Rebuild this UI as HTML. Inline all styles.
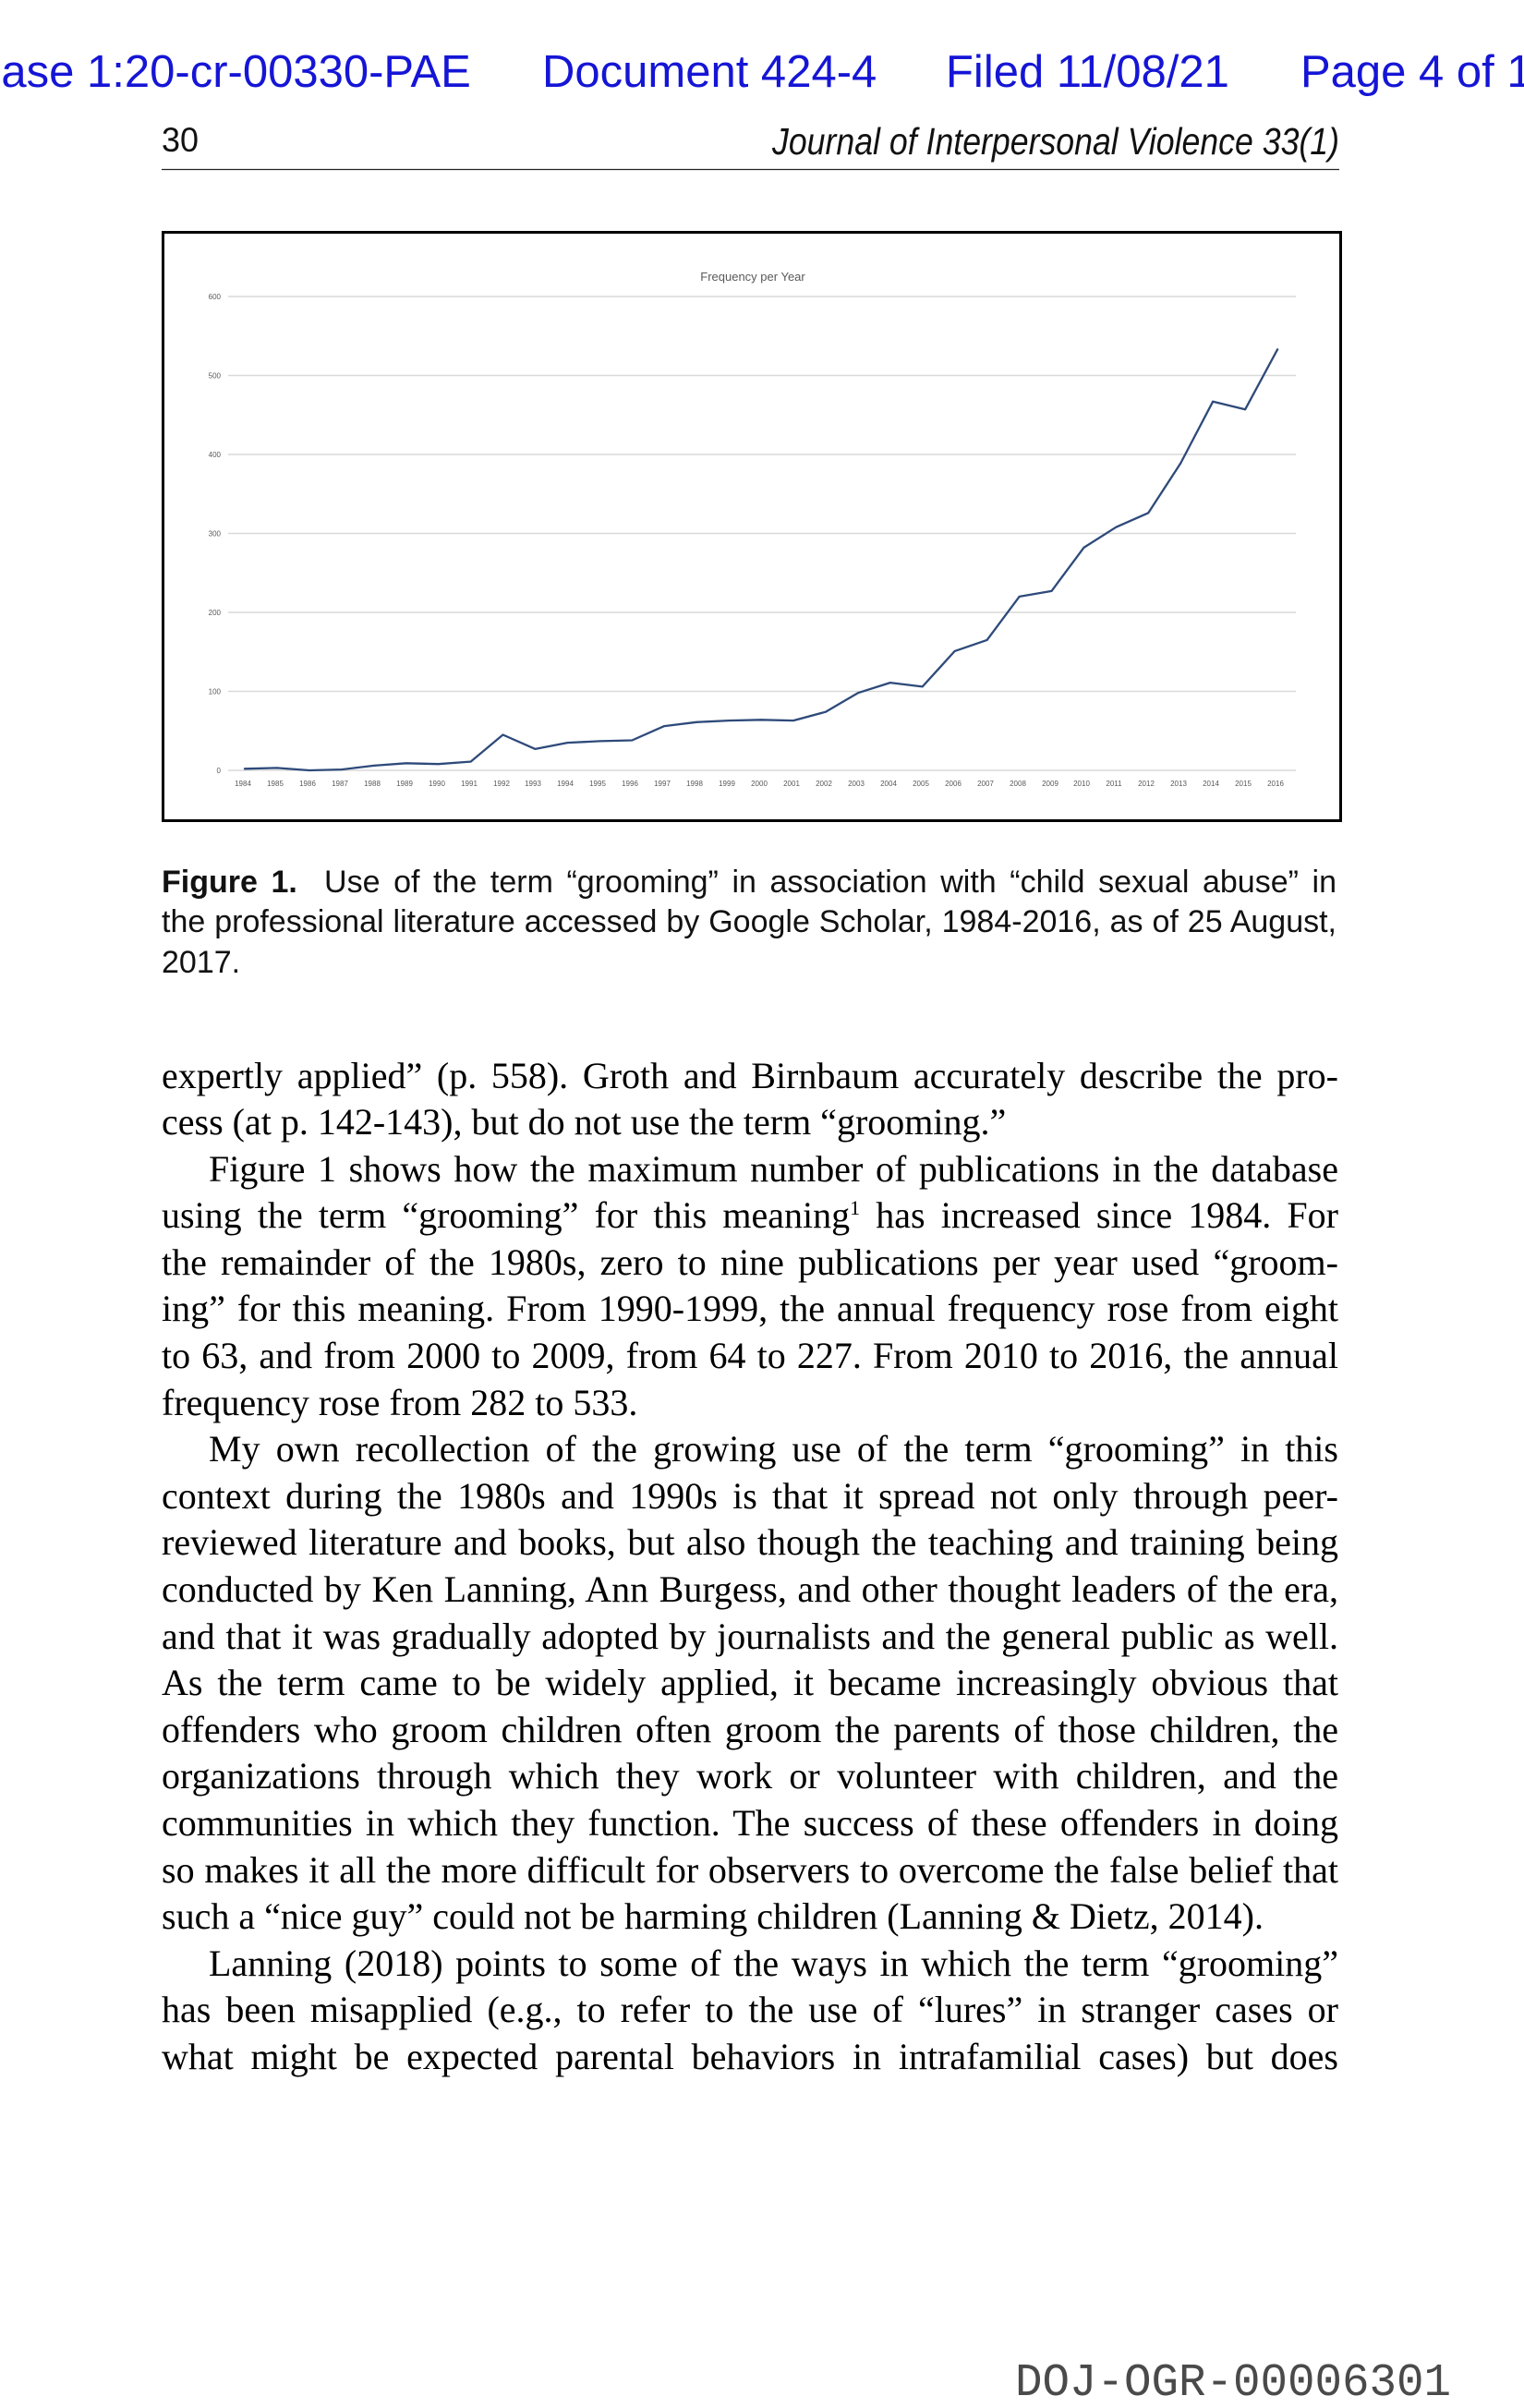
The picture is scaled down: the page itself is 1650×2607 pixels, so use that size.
<!DOCTYPE html>
<html>
<head>
<meta charset="utf-8">
<style>
  html, body { margin:0; padding:0; background:#fff; }
  body { width:1650px; height:2607px; position:relative; overflow:hidden; }
  svg.page { position:absolute; left:0; top:0; }
  .cap { position:absolute; left:175px; top:933.5px; width:1272px;
         font-family:"Liberation Sans", sans-serif; font-size:34px; line-height:43.5px; color:#111; }
  .cap div { white-space:nowrap; text-align:justify; text-align-last:justify; }
  .cap div.last { text-align-last:left; }
  .body { position:absolute; left:175px; top:1139.5px; width:1274px;
          font-family:"Liberation Serif", serif; font-size:40px; line-height:50.6px; color:#000; }
  .body div { white-space:nowrap; text-align:justify; text-align-last:justify; }
  .body div.last { text-align-last:left; }
  .body div.ind { padding-left:51px; }
  sup { font-size:22px; line-height:0; vertical-align:14px; }
</style>
</head>
<body>
<svg class="page" width="1650" height="2607" viewBox="0 0 1650 2607" xmlns="http://www.w3.org/2000/svg">
  <!-- header -->
  <g font-family="Liberation Sans, sans-serif" font-size="49" fill="#1515d6">
    <text x="-34" y="94">Case 1:20-cr-00330-PAE</text>
    <text x="587" y="94">Document 424-4</text>
    <text x="1024" y="94">Filed 11/08/21</text>
    <text x="1408" y="94">Page 4 of 10</text>
  </g>
  <text x="175" y="164" font-family="Liberation Sans, sans-serif" font-size="37" fill="#111" textLength="40" lengthAdjust="spacingAndGlyphs">30</text>
  <text x="836" y="167" font-family="Liberation Sans, sans-serif" font-style="italic" font-size="41" fill="#111" textLength="614" lengthAdjust="spacingAndGlyphs">Journal of Interpersonal Violence 33(1)</text>
  <line x1="175" y1="183.5" x2="1450" y2="183.5" stroke="#222" stroke-width="1.3"/>

  <!-- chart frame -->
  <rect x="176.5" y="251.5" width="1275" height="637" fill="#fff" stroke="#000" stroke-width="3"/>
  <text x="815" y="304" text-anchor="middle" font-family="Liberation Sans, sans-serif" font-size="13" fill="#595959">Frequency per Year</text>

  <!-- gridlines -->
  <g stroke="#d9d9d9" stroke-width="1.5">
    <line x1="247" y1="321" x2="1403" y2="321"/>
    <line x1="247" y1="406.5" x2="1403" y2="406.5"/>
    <line x1="247" y1="492" x2="1403" y2="492"/>
    <line x1="247" y1="577.5" x2="1403" y2="577.5"/>
    <line x1="247" y1="663" x2="1403" y2="663"/>
    <line x1="247" y1="748.5" x2="1403" y2="748.5"/>
    <line x1="247" y1="834" x2="1403" y2="834"/>
  </g>
  <g font-family="Liberation Sans, sans-serif" font-size="8" fill="#595959" text-anchor="end">
    <text x="239" y="324">600</text>
    <text x="239" y="409.5">500</text>
    <text x="239" y="495">400</text>
    <text x="239" y="580.5">300</text>
    <text x="239" y="666">200</text>
    <text x="239" y="751.5">100</text>
    <text x="239" y="837">0</text>
  </g>
  <g font-family="Liberation Sans, sans-serif" font-size="8" fill="#595959" text-anchor="middle">
    <text x="263" y="851">1984</text>
    <text x="298" y="851">1985</text>
    <text x="333" y="851">1986</text>
    <text x="368" y="851">1987</text>
    <text x="403" y="851">1988</text>
    <text x="438" y="851">1989</text>
    <text x="473" y="851">1990</text>
    <text x="508" y="851">1991</text>
    <text x="543" y="851">1992</text>
    <text x="577" y="851">1993</text>
    <text x="612" y="851">1994</text>
    <text x="647" y="851">1995</text>
    <text x="682" y="851">1996</text>
    <text x="717" y="851">1997</text>
    <text x="752" y="851">1998</text>
    <text x="787" y="851">1999</text>
    <text x="822" y="851">2000</text>
    <text x="857" y="851">2001</text>
    <text x="892" y="851">2002</text>
    <text x="927" y="851">2003</text>
    <text x="962" y="851">2004</text>
    <text x="997" y="851">2005</text>
    <text x="1032" y="851">2006</text>
    <text x="1067" y="851">2007</text>
    <text x="1102" y="851">2008</text>
    <text x="1137" y="851">2009</text>
    <text x="1171" y="851">2010</text>
    <text x="1206" y="851">2011</text>
    <text x="1241" y="851">2012</text>
    <text x="1276" y="851">2013</text>
    <text x="1311" y="851">2014</text>
    <text x="1346" y="851">2015</text>
    <text x="1381" y="851">2016</text>
  </g>
  <polyline fill="none" stroke="#2e4a7a" stroke-width="2.3" stroke-linejoin="round" stroke-linecap="round"
    points="265.0,832.3 299.9,831.4 334.9,834 369.8,833.1 404.8,828.9 439.7,826.3 474.6,827.2 509.6,824.6 544.5,795.5 579.5,810.9 614.4,804.1 649.3,802.4 684.3,801.5 719.2,786.1 754.2,781.8 789.1,780.1 824.0,779.3 859.0,780.1 893.9,770.7 928.9,750.2 963.8,739.1 998.7,743.4 1033.7,704.9 1068.6,692.9 1103.6,645.9 1138.5,639.9 1173.4,592.9 1208.4,570.7 1243.3,555.3 1278.3,501.4 1313.2,434.7 1348.1,443.3 1383.1,378.3"/>

  <!-- footer -->
  <text x="1099" y="2593" font-family="Liberation Mono, monospace" font-size="50" fill="#4a4a4a" textLength="472" lengthAdjust="spacingAndGlyphs">DOJ-OGR-00006301</text>
</svg>

<div class="cap">
  <div><b>Figure 1.</b>&nbsp; Use of the term “grooming” in association with “child sexual abuse” in</div>
  <div>the professional literature accessed by Google Scholar, 1984-2016, as of 25 August,</div>
  <div class="last">2017.</div>
</div>

<div class="body">
  <div>expertly applied” (p. 558). Groth and Birnbaum accurately describe the pro-</div>
  <div class="last">cess (at p. 142-143), but do not use the term “grooming.”</div>
  <div class="ind">Figure 1 shows how the maximum number of publications in the database</div>
  <div>using the term “grooming” for this meaning<sup>1</sup> has increased since 1984. For</div>
  <div>the remainder of the 1980s, zero to nine publications per year used “groom-</div>
  <div>ing” for this meaning. From 1990-1999, the annual frequency rose from eight</div>
  <div>to 63, and from 2000 to 2009, from 64 to 227. From 2010 to 2016, the annual</div>
  <div class="last">frequency rose from 282 to 533.</div>
  <div class="ind">My own recollection of the growing use of the term “grooming” in this</div>
  <div>context during the 1980s and 1990s is that it spread not only through peer-</div>
  <div>reviewed literature and books, but also though the teaching and training being</div>
  <div>conducted by Ken Lanning, Ann Burgess, and other thought leaders of the era,</div>
  <div>and that it was gradually adopted by journalists and the general public as well.</div>
  <div>As the term came to be widely applied, it became increasingly obvious that</div>
  <div>offenders who groom children often groom the parents of those children, the</div>
  <div>organizations through which they work or volunteer with children, and the</div>
  <div>communities in which they function. The success of these offenders in doing</div>
  <div>so makes it all the more difficult for observers to overcome the false belief that</div>
  <div class="last">such a “nice guy” could not be harming children (Lanning &amp; Dietz, 2014).</div>
  <div class="ind">Lanning (2018) points to some of the ways in which the term “grooming”</div>
  <div>has been misapplied (e.g., to refer to the use of “lures” in stranger cases or</div>
  <div>what might be expected parental behaviors in intrafamilial cases) but does</div>
</div>
</body>
</html>
